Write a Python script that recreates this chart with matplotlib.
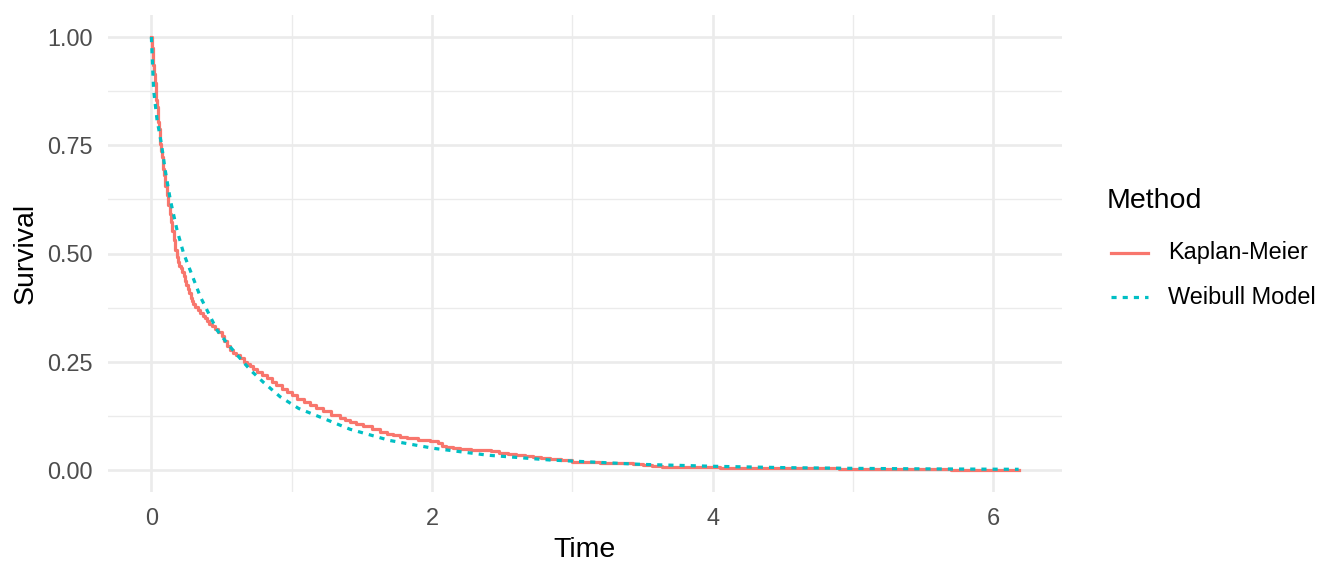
import matplotlib.pyplot as plt
from matplotlib.lines import Line2D

plt.rcParams['font.family'] = ['Liberation Sans', 'DejaVu Sans']

# Kaplan-Meier estimate
km_time = [0, 0.005, 0.01, 0.015, 0.02, 0.025, 0.03, 0.035, 0.04, 0.045, 0.05,
           0.055, 0.06, 0.065, 0.07, 0.075, 0.08, 0.085, 0.09, 0.095, 0.10,
           0.11, 0.12, 0.13, 0.14, 0.15, 0.16, 0.171, 0.18, 0.19, 0.2, 0.21,
           0.218, 0.23, 0.24, 0.25, 0.26, 0.27, 0.28, 0.29, 0.30, 0.313, 0.33,
           0.349, 0.365, 0.38, 0.395, 0.408, 0.43, 0.45, 0.475, 0.503, 0.52,
           0.539, 0.562, 0.58, 0.60, 0.63, 0.657, 0.68, 0.70, 0.725, 0.75, 0.79,
           0.823, 0.86, 0.89, 0.93, 0.965, 1.0, 1.04, 1.085, 1.13, 1.175, 1.22,
           1.28, 1.345, 1.38, 1.416, 1.46, 1.51, 1.57, 1.63, 1.68, 1.72, 1.77,
           1.82, 1.9, 1.986, 2.04, 2.07, 2.10, 2.15, 2.2, 2.28, 2.37, 2.42, 2.48,
           2.54, 2.60, 2.66, 2.72, 2.78, 2.84, 2.92, 3.0, 3.1, 3.2, 3.28, 3.36,
           3.43, 3.5, 3.57, 3.64, 3.77, 3.9, 4.05, 4.2, 4.36, 4.52, 4.7, 4.9,
           5.1, 5.3, 5.5, 5.7, 5.95, 6.18]
km_surv = [1.0, 0.975, 0.955, 0.935, 0.915, 0.895, 0.873, 0.855, 0.838, 0.82,
           0.803, 0.787, 0.768, 0.752, 0.737, 0.722, 0.708, 0.695, 0.682, 0.67,
           0.657, 0.635, 0.613, 0.592, 0.572, 0.553, 0.532, 0.508, 0.492, 0.48,
           0.472, 0.466, 0.458, 0.447, 0.437, 0.427, 0.418, 0.408, 0.398, 0.39,
           0.383, 0.376, 0.37, 0.362, 0.355, 0.35, 0.344, 0.338, 0.332, 0.325,
           0.318, 0.309, 0.297, 0.286, 0.277, 0.271, 0.265, 0.258, 0.250, 0.244,
           0.239, 0.233, 0.227, 0.219, 0.212, 0.203, 0.196, 0.188, 0.181, 0.173,
           0.165, 0.157, 0.150, 0.143, 0.136, 0.128, 0.119, 0.115, 0.111, 0.106,
           0.102, 0.095, 0.088, 0.084, 0.080, 0.076, 0.073, 0.070, 0.068, 0.062,
           0.056, 0.052, 0.050, 0.049, 0.047, 0.045, 0.043, 0.040, 0.037, 0.035,
           0.032, 0.030, 0.027, 0.025, 0.022, 0.019, 0.018, 0.017, 0.016, 0.0155,
           0.013, 0.011, 0.009, 0.0077, 0.007, 0.006, 0.0055, 0.005, 0.0045,
           0.004, 0.0035, 0.003, 0.0025, 0.002, 0.0015, 0.001, 0.0005, 0.0]

# Weibull model curve
wb_time = [0, 0.016, 0.04, 0.071, 0.10, 0.135, 0.183, 0.23, 0.29, 0.349, 0.40,
           0.468, 0.539, 0.61, 0.705, 0.80, 0.918, 1.05, 1.227, 1.416, 1.70,
           2.01, 2.4, 2.84, 3.48, 4.0, 4.52, 5.0, 5.5, 6.18]
wb_surv = [1.0, 0.878, 0.81, 0.754, 0.69, 0.624, 0.554, 0.50, 0.45, 0.40, 0.367,
           0.323, 0.293, 0.266, 0.231, 0.202, 0.169, 0.142, 0.119, 0.094, 0.068,
           0.050, 0.034, 0.023, 0.013, 0.0085, 0.0053, 0.0037, 0.0025, 0.0015]

methods = ['Kaplan-Meier', 'Weibull Model']
colors = ['#F8766D', '#00BFC4']

x_major = [0, 2, 4, 6]
x_minor = [1, 3, 5]
y_major = [0, 0.25, 0.5, 0.75, 1.0]
y_minor = [0.125, 0.375, 0.625, 0.875]
y_labels = ['0.00', '0.25', '0.50', '0.75', '1.00']

W, H = 1344, 576
fig = plt.figure(figsize=(W / 100, H / 100), dpi=100)
ax = fig.add_axes([108 / W, (H - 491.6) / H, (1062 - 108) / W, (491.6 - 15.4) / H])

ax.set_xlim(-0.309, 6.489)
ax.set_ylim(-0.05, 1.05)
ax.set_xticks(x_major)
ax.set_xticks(x_minor, minor=True)
ax.set_yticks(y_major)
ax.set_yticklabels(y_labels)
ax.set_yticks(y_minor, minor=True)
ax.grid(which='major', color='#EBEBEB', linewidth=1.9)
ax.grid(which='minor', color='#EBEBEB', linewidth=0.95)
ax.set_axisbelow(True)
for s in ax.spines.values():
    s.set_visible(False)
ax.tick_params(which='both', length=0, pad=10.8, labelsize=16.9, labelcolor='#4D4D4D')

ax.plot(km_time, km_surv, drawstyle='steps-post', color=colors[0], linewidth=2.3)
ax.plot(wb_time, wb_surv, color=colors[1], linewidth=2.3, dashes=(1.6, 1.9),
        dash_capstyle='butt')

ax.set_xlabel('Time', fontsize=20.5, labelpad=5)
ax.set_ylabel('Survival', fontsize=20.5, labelpad=6)

# legend, ggplot style
fig.text(1107 / W, 1 - 201 / H, 'Method', fontsize=20.5, ha='left', va='center')
key_y = [253, 297]
for i, m in enumerate(methods):
    yy = 1 - key_y[i] / H
    ln = Line2D([1111 / W, 1148 / W], [yy, yy], transform=fig.transFigure,
                color=colors[i], linewidth=2.3)
    if i == 1:
        ln.set_dashes((1.6, 1.9))
        ln.set_dash_capstyle('butt')
    fig.add_artist(ln)
    fig.text(1168 / W, yy, m, fontsize=16.9, ha='left', va='center')

plt.savefig('out.png', dpi=100)
